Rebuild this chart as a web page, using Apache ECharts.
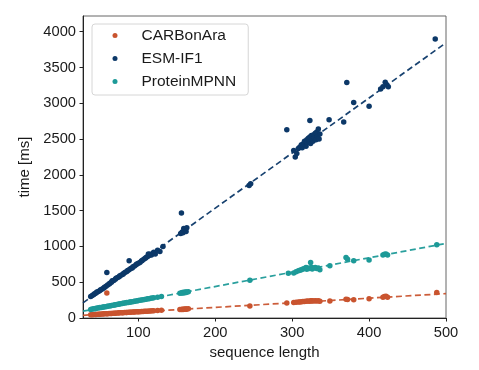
<!DOCTYPE html>
<html>
<head>
<meta charset="utf-8">
<script src="https://cdn.jsdelivr.net/npm/echarts@6/dist/echarts.min.js"></script>
<style>html,body{margin:0;padding:0;background:#fff}#c{width:479px;height:370px}</style>
</head>
<body>
<div id="c"></div>
<script>
var seriesNames = ['CARBonAra', 'ESM-IF1', 'ProteinMPNN'];
var colors = ['#C9542F', '#0C3868', '#1D9A98'];
var xTicks = [100, 200, 300, 400, 500];
var yTicks = [0, 500, 1000, 1500, 2000, 2500, 3000, 3500, 4000];

var carbonara = [[38,45],[40,46],[42,48],[44,49],[45,50],[47,52],[49,53],[50,54],[52,55],[54,57],[55,58],[57,59],[59,350],[59,60],[60,61],[62,62],[64,63],[65,64],[67,66],[69,67],[70,68],[72,69],[74,70],[75,72],[77,73],[79,74],[80,75],[82,76],[84,77],[85,78],[87,80],[89,81],[90,82],[92,83],[94,84],[95,85],[97,86],[99,87],[100,88],[102,89],[104,90],[106,92],[108,93],[110,94],[112,96],[114,97],[116,98],[118,100],[120,101],[125,104],[130,107],
[154,118],[156,120],[157,122],[158,119],[159,124],[160,121],[161,125],[162,123],[163,126],[165,128],
[245,168],[293,210],[302,215],[305,220],[308,222],[310,225],[312,228],[314,230],[316,232],[318,235],[320,236],[322,233],[324,240],[325,238],[326,242],[328,236],[330,240],[332,238],[334,242],[336,235],[349,238],[370,262],[372,258],[380,255],[400,270],[418,290],[420,300],[422,305],[424,290],[488,355]];

var esmif1 = [[38,300],[40,315],[42,330],[43,340],[45,350],[46,365],[48,370],[50,385],[51,395],[53,405],[55,420],[56,430],[58,445],[59,635],[60,460],[62,475],[63,485],[65,500],[66,520],[68,525],[70,540],[71,555],[73,565],[75,575],[76,590],[78,600],[80,610],[81,625],[83,640],[85,650],[86,665],[88,800],[88,675],[90,690],[92,700],[93,715],[95,725],[97,745],[98,755],[100,765],[102,775],[104,795],[105,805],[107,820],[109,835],[110,845],[112,860],[113,893],[114,875],[115,890],[117,880],[119,905],[120,920],[122,895],[125,945],[128,930],[132,1000],
[155,1180],[157,1200],[158,1190],[159,1250],[160,1220],[161,1235],[162,1210],[163,1260],[156,1468],
[244,1850],[246,1875],
[293,2630],[302,2340],[304,2250],[306,2300],[308,2370],[310,2390],[312,2420],[313,2380],[315,2440],[316,2470],[318,2400],[319,2490],[320,2450],[321,2510],[322,2480],[323,2760],[323,2530],[324,2440],[325,2550],[326,2500],[327,2470],[328,2560],[329,2520],[330,2580],[331,2490],[332,2600],[333,2540],[334,2640],[335,2500],[336,2570],[348,2770],[367,2740],[371,3290],[380,3010],[400,2960],[415,3200],[418,3230],[421,3295],[423,3260],[425,3230],[486,3900]];

var proteinmpnn = [[38,120],[40,125],[42,128],[44,130],[45,135],[47,138],[49,142],[50,145],[52,148],[54,152],[55,155],[57,158],[59,162],[60,165],[62,168],[64,172],[65,175],[67,178],[69,182],[70,185],[72,188],[74,192],[75,195],[77,198],[79,202],[80,205],[82,208],[84,212],[85,215],[87,218],[89,222],[90,225],[92,228],[94,232],[95,235],[97,238],[99,242],[100,245],[102,248],[104,252],[106,255],[108,260],[110,262],[112,268],[114,270],[116,275],[118,278],[120,282],[125,290],[130,300],
[154,345],[156,350],[157,355],[158,348],[159,360],[160,352],[161,362],[162,358],[163,365],[165,368],
[245,528],[295,627],[302,630],[305,645],[308,660],[310,668],[312,675],[314,685],[316,690],[318,705],[319,680],[320,700],[322,690],[324,775],[325,710],[326,685],[328,700],[330,705],[332,690],[334,700],[336,675],[349,730],[370,846],[372,820],[380,800],[400,812],[418,880],[420,890],[422,895],[424,880],[488,1023]];

var carbonaraFit = [[28,38],[500,341]];
var esmif1Fit = [[28,211],[500,3845]];
var proteinmpnnFit = [[28,95],[500,1042]];

var scatterData = [carbonara, esmif1, proteinmpnn];
var fitData = [carbonaraFit, esmif1Fit, proteinmpnnFit];

var font = '"Liberation Sans", Arial, Helvetica, sans-serif';
var series = [];
for (var i = 0; i < 3; i++) {
  series.push({
    name: seriesNames[i], type: 'scatter', data: scatterData[i],
    symbol: 'circle', symbolSize: 5.5, itemStyle: {color: colors[i], opacity: 1},
    z: 2
  });
}
for (var j = 0; j < 3; j++) {
  series.push({
    name: seriesNames[j] + ' fit', type: 'line', data: fitData[j],
    symbol: 'none', silent: true, z: 3,
    lineStyle: {color: colors[j], width: 1.7, type: [6, 3.5], opacity: 0.95}
  });
}
function plain(v) { return String(v); }

var chart = echarts.init(document.getElementById('c'), null, {renderer: 'canvas'});
chart.setOption({
  animation: false,
  backgroundColor: '#fff',
  grid: {left: 83, top: 16, right: 33, bottom: 52, show: true, borderColor: '#666', borderWidth: 1},
  legend: {
    data: seriesNames, orient: 'vertical', left: 92, top: 24,
    icon: 'circle', itemWidth: 5, itemHeight: 5, itemGap: 6,
    padding: [3, 12, 5, 20.5],
    borderColor: '#d6d6d6', borderWidth: 1, borderRadius: 3,
    textStyle: {fontFamily: font, fontSize: 15.5, color: '#1a1a1a', lineHeight: 17, padding: [0, 0, 0, 19]}
  },
  xAxis: {
    type: 'value', min: 28, max: 500,
    name: 'sequence length', nameLocation: 'middle', nameGap: 24,
    nameTextStyle: {fontFamily: font, fontSize: 15, color: '#1a1a1a'},
    axisLine: {show: true, onZero: false, lineStyle: {color: '#222', width: 1}},
    axisTick: {show: true, length: 3.5, lineStyle: {color: '#222'}, customValues: xTicks},
    axisLabel: {fontFamily: font, fontSize: 14.7, color: '#1a1a1a', margin: 7, customValues: xTicks, formatter: plain},
    splitLine: {show: false}
  },
  yAxis: {
    type: 'value', min: 0, max: 4220,
    name: 'time [ms]', nameLocation: 'middle', nameGap: 46,
    nameTextStyle: {fontFamily: font, fontSize: 15, color: '#1a1a1a'},
    axisLine: {show: true, onZero: false, lineStyle: {color: '#222', width: 1}},
    axisTick: {show: true, length: 3.5, lineStyle: {color: '#222'}, customValues: yTicks},
    axisLabel: {fontFamily: font, fontSize: 14.7, color: '#1a1a1a', margin: 7, customValues: yTicks, formatter: plain},
    splitLine: {show: false}
  },
  series: series
});
</script>
</body>
</html>
